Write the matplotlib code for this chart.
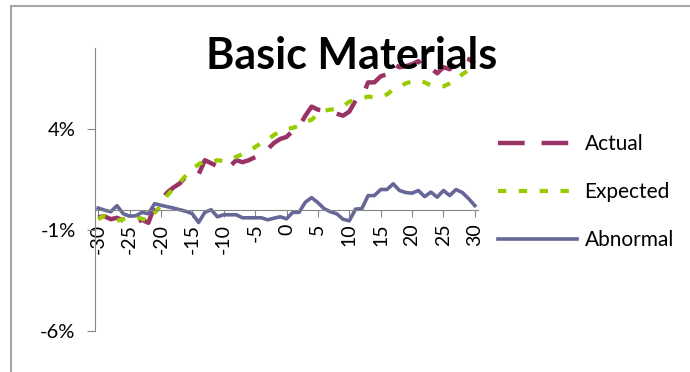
import numpy as np
import matplotlib
matplotlib.use("Agg")
import matplotlib.pyplot as plt
from matplotlib.patches import Rectangle

plt.rcParams['font.family'] = ['Lato', 'DejaVu Sans']

# event window, days relative to the announcement
days = list(range(-30, 31))
tick_days = [-30, -25, -20, -15, -10, -5, 0, 5, 10, 15, 20, 25, 30]
y_ticks = [4, -1, -6]

# cumulative returns in percent
actual = [-0.38, -0.32, -0.47, -0.40, -0.55, -0.72, -0.62, -0.50, -0.65, 0.20,
          0.45, 0.85, 1.10, 1.30, 1.65, 1.85, 1.75, 2.45, 2.30, 2.15,
          2.15, 2.15, 2.45, 2.35, 2.45, 2.60, 2.75, 3.00, 3.30, 3.50,
          3.60, 3.90, 4.10, 4.65, 5.10, 4.95, 4.90, 4.85, 4.75, 4.65,
          4.85, 5.40, 5.55, 6.30, 6.30, 6.60, 6.70, 7.20, 7.05, 7.10,
          7.20, 7.35, 6.95, 7.00, 6.75, 7.05, 6.95, 7.45, 7.55, 7.45,
          7.25]
expected = [-0.47, -0.30, -0.40, -0.55, -0.47, -0.40, -0.35, -0.45, -0.55, -0.15,
            0.20, 0.70, 1.05, 1.35, 1.70, 2.00, 2.25, 2.40, 2.35, 2.45,
            2.40, 2.45, 2.62, 2.75, 2.90, 3.10, 3.30, 3.45, 3.70, 3.87,
            4.00, 4.05, 4.15, 4.35, 4.45, 4.75, 4.90, 4.95, 5.00, 5.10,
            5.35, 5.40, 5.50, 5.60, 5.55, 5.60, 5.70, 5.95, 6.10, 6.25,
            6.35, 6.40, 6.30, 6.15, 6.12, 6.10, 6.25, 6.45, 6.70, 6.90,
            7.05]
abnormal = [0.08, -0.02, -0.10, 0.20, -0.20, -0.32, -0.30, -0.13, -0.20, 0.30,
            0.22, 0.15, 0.08, 0.00, -0.08, -0.20, -0.63, -0.13, 0.00, -0.35,
            -0.25, -0.25, -0.25, -0.40, -0.40, -0.40, -0.40, -0.50, -0.42, -0.35,
            -0.45, -0.13, -0.13, 0.37, 0.60, 0.35, 0.05, -0.10, -0.20, -0.47,
            -0.55, 0.03, 0.05, 0.70, 0.70, 1.00, 1.00, 1.28, 0.95, 0.85,
            0.82, 0.95, 0.65, 0.87, 0.62, 0.95, 0.70, 1.00, 0.85, 0.55,
            0.20]

fig = plt.figure(figsize=(6.9, 3.72), dpi=100)
W, H = 690, 372

# chart frame, runs off the right and bottom edge
fig.patches.append(Rectangle((11 / W, -0.1), 1.0, 1.1 - 6 / H, transform=fig.transFigure,
                             fill=False, edgecolor='#a6a6a6', linewidth=1.5))

ax = fig.add_axes([95 / W, 41 / H, 383 / W, 283 / H])

ax.plot(days, actual, color='#993366', linewidth=3.2, dashes=(6, 3.8),
        dash_capstyle='butt', label='Actual')
ax.plot(days, expected, color='#99cc00', linewidth=3.0, dashes=(2, 3),
        dash_capstyle='butt', label='Expected')
ax.plot(days, abnormal, color='#666699', linewidth=2.6, label='Abnormal')

ax.set_xlim(-30.5, 30.5)
ax.set_ylim(-6, 8)

for s in ['top', 'right']:
    ax.spines[s].set_visible(False)
ax.spines['bottom'].set_position(('data', 0))
ax.spines['bottom'].set_color('#868686')
ax.spines['left'].set_color('#868686')

ax.set_xticks(tick_days)
ax.set_xticklabels([str(d) for d in tick_days], rotation=90, va='top')
ax.set_yticks(y_ticks)
ax.set_yticklabels(['%d%%' % v for v in y_ticks])
ax.tick_params(axis='x', direction='out', length=5, color='#868686', pad=5, labelsize=14)
ax.tick_params(axis='y', direction='out', length=6, color='#868686', pad=8, labelsize=14.5)

fig.text(352 / W, 1 - 56 / H, 'Basic Materials', ha='center', va='center',
         fontsize=31, fontweight='bold')

fig.legend(loc='upper left', bbox_to_anchor=(498 / W, 1 - 134 / H), frameon=False,
           fontsize=15, handlelength=3.8, handletextpad=0.35, labelspacing=1.35,
           borderpad=0, borderaxespad=0)

fig.savefig('out.png', dpi=100)
